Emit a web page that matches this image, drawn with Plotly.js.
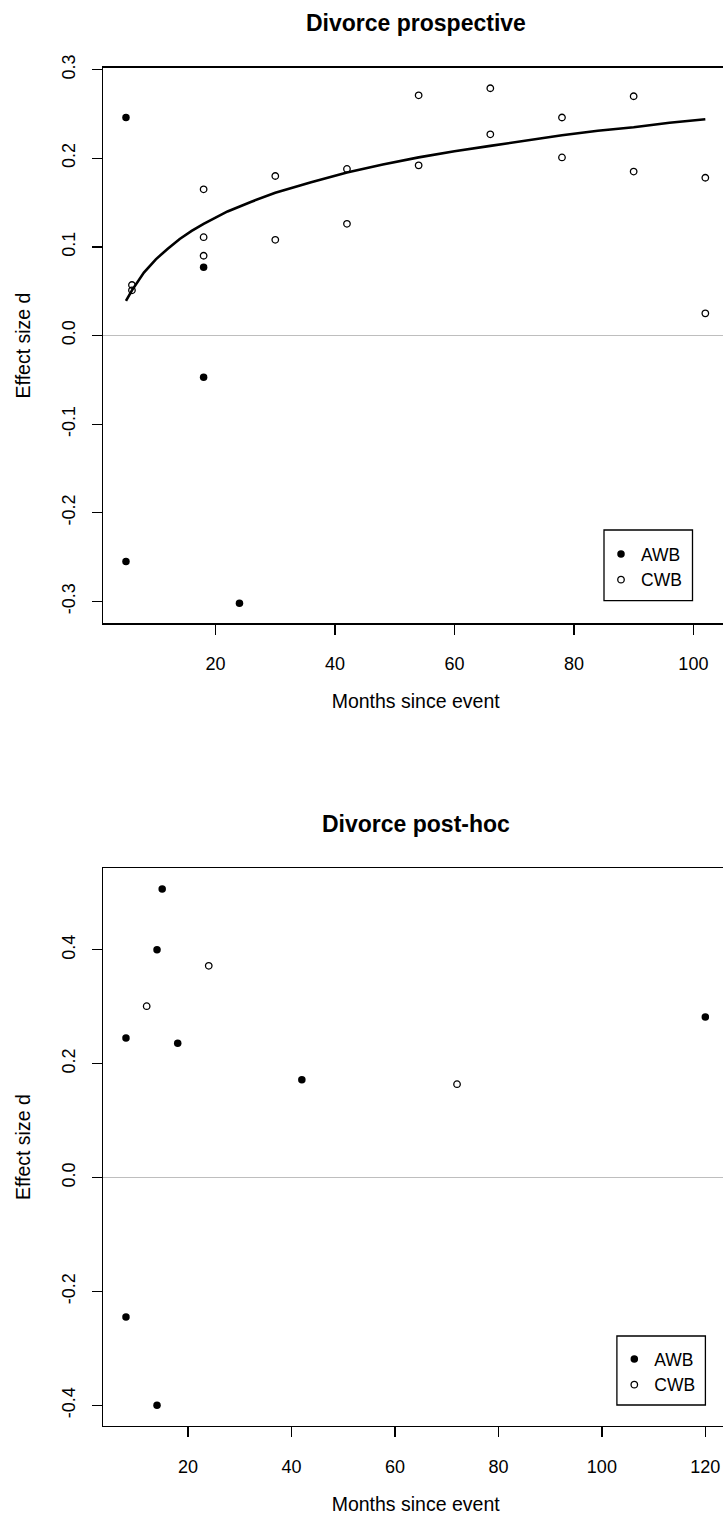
<!DOCTYPE html>
<html>
<head>
<meta charset="utf-8">
<script src="https://cdn.plot.ly/plotly-3.0.1.min.js"></script>
<style>
  html, body { margin: 0; padding: 0; background: #fff; overflow: hidden; }
  #chart { width: 760px; height: 1522px; }
</style>
</head>
<body>
<div id="chart"></div>
<script>
// Divorce, prospective studies: effect size by months since event
const prospAwbMonths = [5, 18, 18, 5, 24];
const prospAwbD      = [0.246, 0.077, -0.047, -0.255, -0.302];
const prospCwbMonths = [6, 6, 18, 18, 18, 30, 30, 42, 42, 54, 54, 66, 66, 78, 78, 90, 90, 102, 102];
const prospCwbD      = [0.057, 0.051, 0.165, 0.111, 0.090, 0.180, 0.108, 0.188, 0.126, 0.271, 0.192,
                        0.279, 0.227, 0.246, 0.201, 0.270, 0.185, 0.178, 0.025];
// Logarithmic trend through the CWB effects
const trendMonths = [5, 6, 8, 10, 12, 14, 16, 18, 22, 26, 30, 36, 42, 48, 54, 60, 66, 72, 78, 84, 90, 96, 102];
const trendD      = [0.039, 0.051, 0.071, 0.086, 0.098, 0.109, 0.118, 0.126, 0.140, 0.151, 0.161, 0.173,
                     0.184, 0.193, 0.201, 0.208, 0.214, 0.220, 0.226, 0.231, 0.235, 0.240, 0.244];

// Divorce, post-hoc studies
const postAwbMonths = [15, 14, 8, 18, 42, 120, 8, 14];
const postAwbD      = [0.507, 0.400, 0.245, 0.236, 0.172, 0.282, -0.245, -0.400];
const postCwbMonths = [12, 24, 72];
const postCwbD      = [0.301, 0.372, 0.164];

// Axis ticks
const prospXTicks = [20, 40, 60, 80, 100];
const prospYTicks = [-0.3, -0.2, -0.1, 0.0, 0.1, 0.2, 0.3];
const prospYLabels = ['-0.3', '-0.2', '-0.1', '0.0', '0.1', '0.2', '0.3'];
const postXTicks = [20, 40, 60, 80, 100, 120];
const postYTicks = [-0.4, -0.2, 0.0, 0.2, 0.4];
const postYLabels = ['-0.4', '-0.2', '0.0', '0.2', '0.4'];

const titles = ['Divorce prospective', 'Divorce post-hoc'];
const groupNames = ['AWB', 'CWB'];

const W = 760, H = 1522;
const FONT = 'Liberation Sans, Arial, Helvetica, sans-serif';
const px = v => v / W;
const py = v => 1 - v / H;

const filled = { symbol: 'circle', size: 7.5, color: '#000' };
const hollow = { symbol: 'circle-open', size: 6.5, color: '#000', line: { width: 1.3, color: '#000' } };

const data = [
  { x: trendMonths, y: trendD, mode: 'lines', line: { color: '#000', width: 2.6 },
    xaxis: 'x', yaxis: 'y', showlegend: false, hoverinfo: 'skip' },
  { x: prospAwbMonths, y: prospAwbD, mode: 'markers', marker: filled, name: groupNames[0],
    xaxis: 'x', yaxis: 'y', legend: 'legend' },
  { x: prospCwbMonths, y: prospCwbD, mode: 'markers', marker: hollow, name: groupNames[1],
    xaxis: 'x', yaxis: 'y', legend: 'legend' },
  { x: postAwbMonths, y: postAwbD, mode: 'markers', marker: filled, name: groupNames[0],
    xaxis: 'x2', yaxis: 'y2', legend: 'legend2' },
  { x: postCwbMonths, y: postCwbD, mode: 'markers', marker: hollow, name: groupNames[1],
    xaxis: 'x2', yaxis: 'y2', legend: 'legend2' }
];

const tickFont = { family: FONT, size: 18, color: '#000' };
const titleFont = { family: FONT, size: 19.5, color: '#000' };

function xAxis() {
  return {
    domain: [px(102.8), px(728.5)],
    showgrid: false, zeroline: false, showline: true, mirror: true,
    linecolor: '#000', linewidth: 1.3, ticks: 'outside', ticklen: 10, tickwidth: 1.3,
    tickcolor: '#000', tickfont: tickFont, ticklabelstandoff: 14,
    title: { text: 'Months since event', font: titleFont, standoff: 21 }
  };
}
function yAxis(domain, range, ticks, labels) {
  return {
    domain: domain, range: range, tickvals: ticks, ticktext: labels, tickangle: -90,
    showgrid: false, zeroline: true, zerolinecolor: '#bebebe', zerolinewidth: 1.6,
    showline: true, mirror: true, linecolor: '#000', linewidth: 1.3,
    ticks: 'outside', ticklen: 10, tickwidth: 1.3, tickcolor: '#000',
    tickfont: tickFont, ticklabelstandoff: 9,
    title: { text: 'Effect size d', font: titleFont, standoff: 23 }
  };
}

const layout = {
  width: W, height: H,
  margin: { l: 0, r: 0, t: 0, b: 0 },
  paper_bgcolor: '#fff', plot_bgcolor: '#fff',
  font: { family: FONT, color: '#000' },
  xaxis: Object.assign(xAxis(), { anchor: 'y', range: [1.12, 105.88], tickvals: prospXTicks }),
  yaxis: Object.assign(yAxis([py(623.3), py(67.7)], [-0.3247, 0.3022], prospYTicks, prospYLabels), { anchor: 'x' }),
  xaxis2: Object.assign(xAxis(), { anchor: 'y2', range: [3.52, 124.48], tickvals: postXTicks }),
  yaxis2: Object.assign(yAxis([py(1426), py(868.3)], [-0.4363, 0.5432], postYTicks, postYLabels), { anchor: 'x2' }),
  legend: {
    x: px(601), y: py(536), xanchor: 'left', yanchor: 'top',
    bgcolor: 'rgba(0,0,0,0)', borderwidth: 0, font: { family: FONT, size: 17.5, color: '#000' }
  },
  legend2: {
    x: px(614.3), y: py(1341), xanchor: 'left', yanchor: 'top',
    bgcolor: 'rgba(0,0,0,0)', borderwidth: 0, font: { family: FONT, size: 17.5, color: '#000' }
  },
  shapes: [
    { type: 'rect', xref: 'paper', yref: 'paper', x0: px(604), x1: px(692.5), y0: py(600.7), y1: py(530),
      line: { color: '#000', width: 1.3 }, fillcolor: 'rgba(0,0,0,0)' },
    { type: 'rect', xref: 'paper', yref: 'paper', x0: px(616.9), x1: px(705.4), y0: py(1405), y1: py(1336),
      line: { color: '#000', width: 1.3 }, fillcolor: 'rgba(0,0,0,0)' }
  ],
  annotations: [
    { text: '<b>' + titles[0] + '</b>', xref: 'paper', yref: 'paper', x: px(415.6), y: py(22.7),
      xanchor: 'center', yanchor: 'middle', showarrow: false, font: { family: FONT, size: 23, color: '#000' } },
    { text: '<b>' + titles[1] + '</b>', xref: 'paper', yref: 'paper', x: px(415.6), y: py(824),
      xanchor: 'center', yanchor: 'middle', showarrow: false, font: { family: FONT, size: 23, color: '#000' } }
  ],
  showlegend: true
};

Plotly.newPlot('chart', data, layout, { staticPlot: true, displayModeBar: false });
</script>
</body>
</html>
